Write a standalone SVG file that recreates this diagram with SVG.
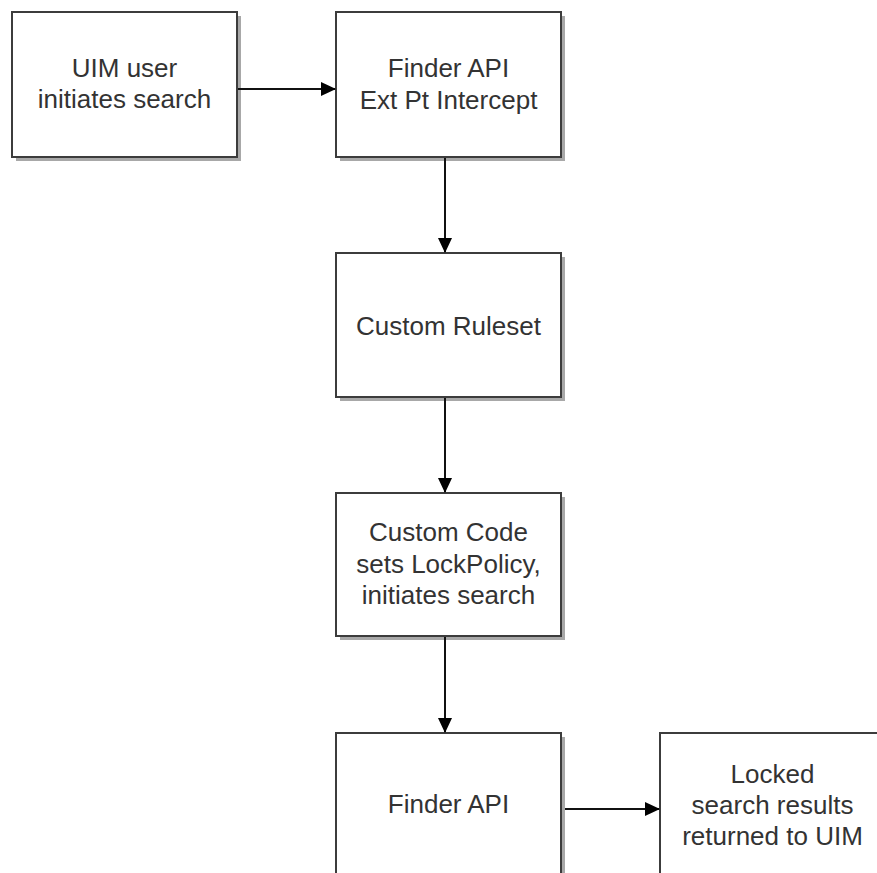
<svg xmlns="http://www.w3.org/2000/svg" width="877" height="873" viewBox="0 0 877 873">
<style>
.box{fill:#ffffff;stroke:#3c3c3c;stroke-width:2}
.shadow{fill:#a8a8a8}
.lbl{font-family:"Liberation Sans",Arial,sans-serif;font-size:26px;fill:#333333;text-anchor:middle}
.conn{stroke:#111111;stroke-width:2;fill:none}
</style>
<defs>
<marker id="ah" markerWidth="15" markerHeight="14" refX="14" refY="7" orient="auto" markerUnits="userSpaceOnUse">
<path d="M0,0 L15,7 L0,14 Z" fill="#000000"/>
</marker>
</defs>
<rect width="877" height="873" fill="#ffffff"/>
<g id="n1">
<rect class="shadow" x="16" y="16" width="225" height="145"/>
<rect class="box" x="12" y="12" width="225" height="145"/>
<text class="lbl" x="124.5" y="77">UIM user</text>
<text class="lbl" x="124.5" y="108">initiates search</text>
</g>
<g id="n2">
<rect class="shadow" x="340" y="16" width="225" height="145"/>
<rect class="box" x="336" y="12" width="225" height="145"/>
<text class="lbl" x="448.5" y="77">Finder API</text>
<text class="lbl" x="448.5" y="109">Ext Pt Intercept</text>
</g>
<g id="n3">
<rect class="shadow" x="340" y="257" width="225" height="144"/>
<rect class="box" x="336" y="253" width="225" height="144"/>
<text class="lbl" x="448.5" y="335">Custom Ruleset</text>
</g>
<g id="n4">
<rect class="shadow" x="340" y="497" width="225" height="143"/>
<rect class="box" x="336" y="493" width="225" height="143"/>
<text class="lbl" x="448.5" y="541">Custom Code</text>
<text class="lbl" x="448.5" y="573">sets LockPolicy,</text>
<text class="lbl" x="448.5" y="604">initiates search</text>
</g>
<g id="n5">
<rect class="shadow" x="340" y="737" width="225" height="160"/>
<rect class="box" x="336" y="733" width="225" height="160"/>
<text class="lbl" x="448.5" y="813">Finder API</text>
</g>
<g id="n6">
<rect class="shadow" x="664" y="737" width="225" height="160"/>
<rect class="box" x="660" y="733" width="225" height="160"/>
<text class="lbl" x="772.5" y="783">Locked</text>
<text class="lbl" x="772.5" y="814">search results</text>
<text class="lbl" x="772.5" y="845">returned to UIM</text>
</g>
<g id="connectors">
<line class="conn" x1="238" y1="89" x2="335" y2="89" marker-end="url(#ah)"/>
<line class="conn" x1="445" y1="158" x2="445" y2="252" marker-end="url(#ah)"/>
<line class="conn" x1="445" y1="398" x2="445" y2="492" marker-end="url(#ah)"/>
<line class="conn" x1="445" y1="637" x2="445" y2="732" marker-end="url(#ah)"/>
<line class="conn" x1="565" y1="809" x2="659" y2="809" marker-end="url(#ah)"/>
</g>
</svg>
